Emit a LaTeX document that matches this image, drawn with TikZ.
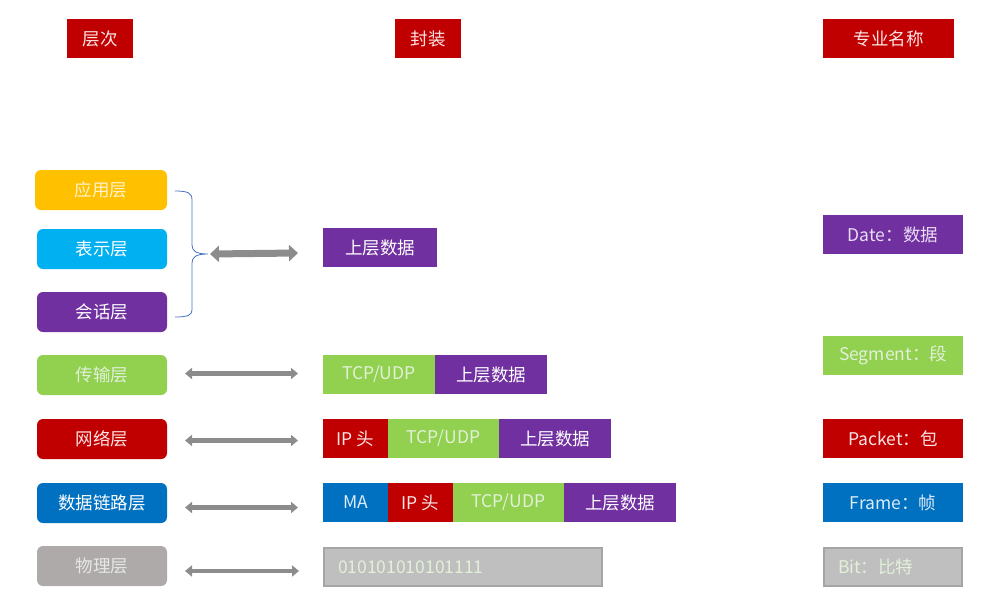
\documentclass[tikz,border=0pt]{standalone}
\usepackage{fontspec}
\setmainfont{Noto Sans CJK SC}
\usetikzlibrary{arrows.meta}
\definecolor{cyel}{HTML}{FFC000}
\definecolor{ccyan}{HTML}{00B0F0}
\definecolor{cpur}{HTML}{7030A0}
\definecolor{cgrn}{HTML}{92D050}
\definecolor{cred}{HTML}{C00000}
\definecolor{cblu}{HTML}{0070C0}
\definecolor{cgry}{HTML}{AEAAAA}
\definecolor{cphy}{HTML}{BFBFBF}
\definecolor{cphyb}{HTML}{A5A5A5}
\definecolor{carr}{HTML}{8C8C8C}
\definecolor{cbrace}{HTML}{4472C4}
\definecolor{tyel}{HTML}{FFF2CC}
\definecolor{tgrn}{HTML}{E2F0D9}
\definecolor{tgry}{HTML}{E7E6E6}
\definecolor{tpink}{HTML}{FCE4E4}
\definecolor{tblu}{HTML}{DDEBF7}
\definecolor{tpur}{HTML}{E8DDF3}
\tikzset{
  x=1pt, y=-1pt,
  base/.style={inner sep=0pt, outer sep=0pt, anchor=north west, font=\fontsize{17.5}{20}\selectfont, text=white},
  hdr/.style={base, fill=cred, minimum height=39pt, text=tpink},
  lay/.style={base, rounded corners=6pt, minimum width=130pt, minimum height=40pt},
  seg/.style={base, minimum height=39pt},
  nm/.style={base, minimum width=140pt, minimum height=39pt},
  arr/.style={draw=carr, line width=4.5pt, {Triangle[length=7pt,width=11pt]}-{Triangle[length=7pt,width=11pt]}, shorten <=18pt, shorten >=25pt},
  bigarr/.style={draw=carr, line width=7pt, {Triangle[length=9pt,width=16pt]}-{Triangle[length=9pt,width=16pt]}}
}
\begin{document}
\begin{tikzpicture}
\useasboundingbox (0,0) rectangle (989,590);
% headers
\node[hdr, minimum width=66pt] (h1) at (67,19) {层次};
\node[hdr, minimum width=66pt] (h2) at (395,19) {封装};
\node[hdr, minimum width=131pt] (h3) at (823,19) {专业名称};
% layers
\node[lay, fill=cyel, text=tyel, minimum width=132pt] (l1) at (35,170) {应用层};
\node[lay, fill=ccyan] (l2) at (37,229) {表示层};
\node[lay, fill=cpur] (l3) at (37,292) {会话层};
\node[lay, fill=cgrn, text=tgrn] (l4) at (37,355) {传输层};
\node[lay, fill=cred, text=tpink] (l5) at (37,419) {网络层};
\node[lay, fill=cblu] (l6) at (37,483) {数据链路层};
\node[lay, fill=cgry, text=tgry] (l7) at (37,546) {物理层};
% brace
\coordinate (btop) at (175,191);
\coordinate (bbot) at (175,317);
\coordinate (btip) at (208,254);
\draw[cbrace, line width=0.8pt] (btop) .. controls (188,191) and (192,193) .. (192,200) -- (192,245)
  .. controls (192,251) and (196,254) .. (btip)
  .. controls (196,254) and (192,257) .. (192,263) -- (192,310)
  .. controls (192,315) and (188,317) .. (bbot);
% packets
\node[seg, fill=cpur, minimum width=114pt] (p1) at (323,228) {上层数据};
\node[seg, fill=cgrn, text=tgrn, minimum width=112pt] (p4a) at (323,355) {TCP/UDP};
\node[seg, fill=cpur, minimum width=112pt] (p4b) at (435,355) {上层数据};
\node[seg, fill=cred, text=tpink, minimum width=65pt] (p5a) at (323,419) {IP 头};
\node[seg, fill=cgrn, text=tgrn, minimum width=111pt] (p5b) at (388,419) {TCP/UDP};
\node[seg, fill=cpur, minimum width=112pt] (p5c) at (499,419) {上层数据};
\node[seg, fill=cblu, text=tblu, minimum width=65pt] (p6a) at (323,483) {MA};
\node[seg, fill=cred, text=tpink, minimum width=65pt] (p6b) at (388,483) {IP 头};
\node[seg, fill=cgrn, text=tgrn, minimum width=111pt] (p6c) at (453,483) {TCP/UDP};
\node[seg, fill=cpur, minimum width=112pt] (p6d) at (564,483) {上层数据};
\node[seg, fill=cphy, draw=cphyb, line width=2pt, minimum width=278pt, minimum height=38pt] (p7) at (324,548) {};
\node[base, text=tgrn, anchor=west] (p7t) at ([xshift=14pt]p7.west) {010101010101111};
% names
\node[nm, fill=cpur, text=tpur] (n1) at (823,215) {Date：数据};
\node[nm, fill=cgrn, text=tgrn] (n4) at (823,336) {Segment：段};
\node[nm, fill=cred, text=tpink] (n5) at (823,419) {Packet：包};
\node[nm, fill=cblu, text=tblu] (n6) at (823,483) {Frame：帧};
\node[nm, fill=cphy, draw=cphyb, line width=2pt, minimum width=138pt, minimum height=38pt] (n7) at (824,548) {};
\node[base, text=tgrn, anchor=west] (n7t) at ([xshift=14pt]n7.west) {Bit：比特};
% arrows
\draw[bigarr] ([xshift=2pt]btip) -- ([xshift=-25pt,yshift=-5.5pt]p1.west);
\draw[arr] ([yshift=1.5pt]l4.east) -- ([yshift=1.5pt]l4.east -| p4a.west);
\draw[arr] ([yshift=-1.5pt]l5.east) -- ([yshift=-1.5pt]l5.east -| p5a.west);
\draw[arr] ([yshift=-4.5pt]l6.east) -- ([yshift=-4.5pt]l6.east -| p6a.west);
\draw[arr] ([yshift=-5pt]l7.east) -- ([yshift=-5pt]l7.east -| p7.west);
\end{tikzpicture}
\end{document}
